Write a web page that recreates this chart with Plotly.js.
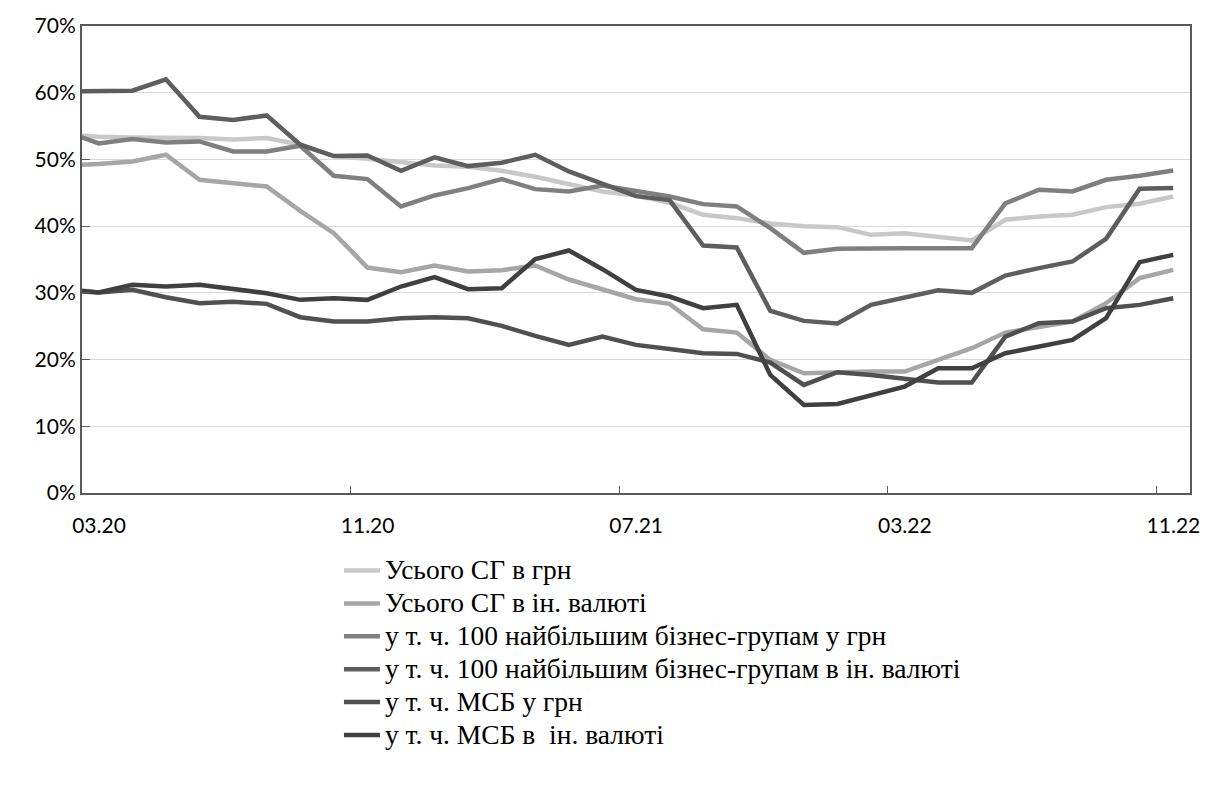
<!DOCTYPE html>
<html>
<head>
<meta charset="utf-8">
<script src="https://cdn.plot.ly/plotly-3.0.1.min.js"></script>
<style>html,body{margin:0;padding:0;background:#fff;}#chart{width:1208px;height:790px;}</style>
</head>
<body>
<div id="chart"></div>
<script>
// Months (first entry is the month before the visible range; its segment is clipped by the axis)
const months = ["02.20","03.20","04.20","05.20","06.20","07.20","08.20","09.20","10.20","11.20","12.20",
  "01.21","02.21","03.21","04.21","05.21","06.21","07.21","08.21","09.21","10.21","11.21","12.21",
  "01.22","02.22","03.22","04.22","05.22","06.22","07.22","08.22","09.22","10.22","11.22"];
const tickLabels = ["03.20","11.20","07.21","03.22","11.22"];

const seriesNames = [
  "Усього СГ в грн",
  "Усього СГ в ін. валюті",
  "у т. ч. 100 найбільшим бізнес-групам у грн",
  "у т. ч. 100 найбільшим бізнес-групам в ін. валюті",
  "у т. ч. МСБ у грн",
  "у т. ч. МСБ в  ін. валюті"
];

const totalUah = [53.8,53.4,53.3,53.3,53.2,53.0,53.2,52.2,50.5,50.1,49.6,49.1,48.9,48.3,47.4,46.3,45.2,44.6,43.5,41.7,41.2,40.4,40.0,39.85,38.7,38.95,38.35,37.85,40.95,41.45,41.7,42.85,43.35,44.45];
const totalFx = [49.1,49.3,49.7,50.7,46.95,46.45,45.95,42.3,38.95,33.8,33.1,34.1,33.2,33.4,34.1,32.0,30.55,29.05,28.35,24.55,24.05,19.95,17.95,18.1,18.2,18.2,19.95,21.7,24.05,24.85,25.7,28.45,32.2,33.45];
const top100Uah = [54.2,52.4,53.05,52.55,52.7,51.2,51.2,52.05,47.55,47.05,42.95,44.6,45.7,47.05,45.55,45.2,46.1,45.35,44.45,43.3,42.95,39.7,36.0,36.6,36.7,36.7,36.7,36.7,43.4,45.45,45.2,46.95,47.55,48.35];
const top100Fx = [60.2,60.25,60.3,62.0,56.4,55.9,56.6,52.2,50.5,50.6,48.3,50.3,49.0,49.5,50.7,48.2,46.4,44.5,43.9,37.1,36.8,27.3,25.8,25.4,28.2,29.3,30.4,30.0,32.6,33.7,34.7,38.1,45.6,45.7];
const smeUah = [30.35,30.05,30.45,29.35,28.45,28.65,28.35,26.35,25.7,25.7,26.2,26.35,26.2,25.05,23.55,22.2,23.45,22.2,21.6,20.95,20.85,19.55,16.2,18.1,17.7,17.2,16.55,16.55,23.45,25.45,25.7,27.7,28.2,29.2];
const smeFx = [30.6,30.05,31.2,30.95,31.2,30.55,29.95,28.95,29.2,28.95,30.95,32.35,30.55,30.7,35.05,36.35,33.55,30.45,29.45,27.7,28.2,17.7,13.2,13.35,14.7,15.95,18.7,18.7,20.95,21.95,22.95,26.2,34.6,35.7];

const seriesValues = [totalUah, totalFx, top100Uah, top100Fx, smeUah, smeFx];
const colors = ["#c8c8c8","#a6a6a6","#7f7f7f","#5e5e5e","#505050","#404040"];

const xIdx = months.map((m, i) => i);
const traces = seriesValues.map((vals, s) => ({
  type: "scatter",
  mode: "lines",
  name: '<span style="font-size:27.5px">' + seriesNames[s] + '</span>',
  x: xIdx,
  y: vals,
  line: {color: colors[s], width: 4.5},
  hoverinfo: "skip"
}));

const tickVals = tickLabels.map(l => months.indexOf(l) - 0.5);

const layout = {
  width: 1208,
  height: 790,
  paper_bgcolor: "#ffffff",
  plot_bgcolor: "#ffffff",
  margin: {l: 82, r: 18, t: 26, b: 297, autoexpand: false},
  font: {family: "Lato, 'Open Sans', sans-serif", size: 21, color: "#000"},
  xaxis: {
    type: "linear",
    range: [0.5, months.length - 0.5],
    tickmode: "array",
    tickvals: tickVals,
    ticktext: tickLabels,
    ticklabelshift: 17,
    ticklabeloverflow: "allow",
    ticks: "inside",
    ticklen: 7,
    tickwidth: 1,
    tickcolor: "#595959",
    showgrid: false,
    zeroline: false,
    showline: true,
    linecolor: "#595959",
    linewidth: 2,
    mirror: true,
    ticklabelstandoff: 13,
    tickfont: {family: "Lato, sans-serif", size: 21, color: "#000"}
  },
  yaxis: {
    range: [0, 70],
    dtick: 10,
    ticksuffix: "%",
    ticks: "inside",
    ticklen: 8,
    tickwidth: 1,
    tickcolor: "#595959",
    showgrid: true,
    gridcolor: "#d9d9d9",
    gridwidth: 1,
    zeroline: false,
    showline: true,
    linecolor: "#595959",
    linewidth: 2,
    mirror: true,
    ticklabelstandoff: 0,
    tickfont: {family: "Lato, sans-serif", size: 21, color: "#000"}
  },
  showlegend: true,
  legend: {
    orientation: "v",
    xref: "container",
    yref: "container",
    x: 0.2806,
    xanchor: "left",
    y: 0.305,
    yanchor: "top",
    itemwidth: 36,
    font: {family: "'Liberation Serif', 'Times New Roman', serif", size: 23, color: "#000"},
    bgcolor: "rgba(0,0,0,0)",
    borderwidth: 0,
    tracegroupgap: 0
  }
};

Plotly.newPlot("chart", traces, layout, {displayModeBar: false, staticPlot: true});
</script>
</body>
</html>
